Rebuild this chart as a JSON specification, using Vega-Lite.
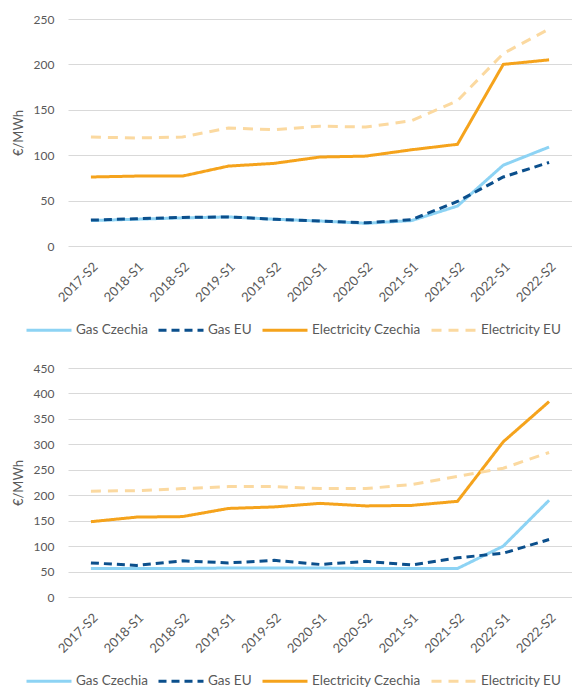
{
  "$schema": "https://vega.github.io/schema/vega-lite/v6.json",
  "padding": {"left": 12, "top": 13, "right": 0, "bottom": 0},
  "spacing": 25,
  "config": {
    "font": "Lato",
    "view": {"stroke": null},
    "axis": {"labelColor": "#595959", "titleColor": "#595959", "labelFontSize": 12, "titleFontSize": 13, "titleFontWeight": "normal", "domain": false, "ticks": false, "gridColor": "#d9d9d9"},
    "legend": {"orient": "none", "legendX": -43, "direction": "horizontal", "title": null, "symbolType": "stroke", "symbolSize": 2025, "symbolStrokeWidth": 3, "labelFontSize": 13.5, "labelColor": "#595959", "columnPadding": 4, "labelOffset": 3, "columns": 4}
  },
  "resolve": {"scale": {"color": "independent", "strokeDash": "independent", "y": "independent", "x": "independent"}, "legend": {"color": "independent", "strokeDash": "independent"}},
  "datasets": {
    "top": [
      {"period": "2017-S2", "series": "Gas Czechia", "value": 28},
      {"period": "2018-S1", "series": "Gas Czechia", "value": 29.5},
      {"period": "2018-S2", "series": "Gas Czechia", "value": 31},
      {"period": "2019-S1", "series": "Gas Czechia", "value": 32},
      {"period": "2019-S2", "series": "Gas Czechia", "value": 29.5},
      {"period": "2020-S1", "series": "Gas Czechia", "value": 27.5},
      {"period": "2020-S2", "series": "Gas Czechia", "value": 25},
      {"period": "2021-S1", "series": "Gas Czechia", "value": 28},
      {"period": "2021-S2", "series": "Gas Czechia", "value": 44},
      {"period": "2022-S1", "series": "Gas Czechia", "value": 89},
      {"period": "2022-S2", "series": "Gas Czechia", "value": 109},
      {"period": "2017-S2", "series": "Gas EU", "value": 28.5},
      {"period": "2018-S1", "series": "Gas EU", "value": 30},
      {"period": "2018-S2", "series": "Gas EU", "value": 31.5},
      {"period": "2019-S1", "series": "Gas EU", "value": 32},
      {"period": "2019-S2", "series": "Gas EU", "value": 29.5},
      {"period": "2020-S1", "series": "Gas EU", "value": 27.5},
      {"period": "2020-S2", "series": "Gas EU", "value": 25.5},
      {"period": "2021-S1", "series": "Gas EU", "value": 29},
      {"period": "2021-S2", "series": "Gas EU", "value": 49},
      {"period": "2022-S1", "series": "Gas EU", "value": 76},
      {"period": "2022-S2", "series": "Gas EU", "value": 92},
      {"period": "2017-S2", "series": "Electricity Czechia", "value": 76},
      {"period": "2018-S1", "series": "Electricity Czechia", "value": 77},
      {"period": "2018-S2", "series": "Electricity Czechia", "value": 77},
      {"period": "2019-S1", "series": "Electricity Czechia", "value": 88},
      {"period": "2019-S2", "series": "Electricity Czechia", "value": 91},
      {"period": "2020-S1", "series": "Electricity Czechia", "value": 98},
      {"period": "2020-S2", "series": "Electricity Czechia", "value": 99},
      {"period": "2021-S1", "series": "Electricity Czechia", "value": 106},
      {"period": "2021-S2", "series": "Electricity Czechia", "value": 112},
      {"period": "2022-S1", "series": "Electricity Czechia", "value": 200},
      {"period": "2022-S2", "series": "Electricity Czechia", "value": 205},
      {"period": "2017-S2", "series": "Electricity EU", "value": 120},
      {"period": "2018-S1", "series": "Electricity EU", "value": 119},
      {"period": "2018-S2", "series": "Electricity EU", "value": 120},
      {"period": "2019-S1", "series": "Electricity EU", "value": 130},
      {"period": "2019-S2", "series": "Electricity EU", "value": 128},
      {"period": "2020-S1", "series": "Electricity EU", "value": 132},
      {"period": "2020-S2", "series": "Electricity EU", "value": 131},
      {"period": "2021-S1", "series": "Electricity EU", "value": 138},
      {"period": "2021-S2", "series": "Electricity EU", "value": 160},
      {"period": "2022-S1", "series": "Electricity EU", "value": 212},
      {"period": "2022-S2", "series": "Electricity EU", "value": 239}
    ],
    "bottom": [
      {"period": "2017-S2", "series": "Gas Czechia", "value": 56},
      {"period": "2018-S1", "series": "Gas Czechia", "value": 56},
      {"period": "2018-S2", "series": "Gas Czechia", "value": 56},
      {"period": "2019-S1", "series": "Gas Czechia", "value": 57},
      {"period": "2019-S2", "series": "Gas Czechia", "value": 57},
      {"period": "2020-S1", "series": "Gas Czechia", "value": 57},
      {"period": "2020-S2", "series": "Gas Czechia", "value": 56},
      {"period": "2021-S1", "series": "Gas Czechia", "value": 56},
      {"period": "2021-S2", "series": "Gas Czechia", "value": 56},
      {"period": "2022-S1", "series": "Gas Czechia", "value": 100},
      {"period": "2022-S2", "series": "Gas Czechia", "value": 190},
      {"period": "2017-S2", "series": "Gas EU", "value": 67},
      {"period": "2018-S1", "series": "Gas EU", "value": 62},
      {"period": "2018-S2", "series": "Gas EU", "value": 71},
      {"period": "2019-S1", "series": "Gas EU", "value": 67},
      {"period": "2019-S2", "series": "Gas EU", "value": 72},
      {"period": "2020-S1", "series": "Gas EU", "value": 64},
      {"period": "2020-S2", "series": "Gas EU", "value": 70},
      {"period": "2021-S1", "series": "Gas EU", "value": 63},
      {"period": "2021-S2", "series": "Gas EU", "value": 77},
      {"period": "2022-S1", "series": "Gas EU", "value": 86},
      {"period": "2022-S2", "series": "Gas EU", "value": 113},
      {"period": "2017-S2", "series": "Electricity Czechia", "value": 148},
      {"period": "2018-S1", "series": "Electricity Czechia", "value": 157},
      {"period": "2018-S2", "series": "Electricity Czechia", "value": 158},
      {"period": "2019-S1", "series": "Electricity Czechia", "value": 174},
      {"period": "2019-S2", "series": "Electricity Czechia", "value": 177},
      {"period": "2020-S1", "series": "Electricity Czechia", "value": 184},
      {"period": "2020-S2", "series": "Electricity Czechia", "value": 179},
      {"period": "2021-S1", "series": "Electricity Czechia", "value": 180},
      {"period": "2021-S2", "series": "Electricity Czechia", "value": 188},
      {"period": "2022-S1", "series": "Electricity Czechia", "value": 305},
      {"period": "2022-S2", "series": "Electricity Czechia", "value": 384},
      {"period": "2017-S2", "series": "Electricity EU", "value": 208},
      {"period": "2018-S1", "series": "Electricity EU", "value": 209},
      {"period": "2018-S2", "series": "Electricity EU", "value": 213},
      {"period": "2019-S1", "series": "Electricity EU", "value": 217},
      {"period": "2019-S2", "series": "Electricity EU", "value": 217},
      {"period": "2020-S1", "series": "Electricity EU", "value": 213},
      {"period": "2020-S2", "series": "Electricity EU", "value": 213},
      {"period": "2021-S1", "series": "Electricity EU", "value": 221},
      {"period": "2021-S2", "series": "Electricity EU", "value": 237},
      {"period": "2022-S1", "series": "Electricity EU", "value": 253},
      {"period": "2022-S2", "series": "Electricity EU", "value": 284}
    ]
  },
  "vconcat": [
    {
      "width": 504,
      "height": 227,
      "data": {"name": "top"},
      "mark": {"type": "line", "strokeWidth": 3},
      "encoding": {
        "x": {"field": "period", "type": "ordinal", "sort": null, "scale": {"type": "point", "padding": 0.5}, "axis": {"title": null, "labelAngle": -45, "grid": false, "labelPadding": 14, "labelFontSize": 13}},
        "y": {"field": "value", "type": "quantitative", "scale": {"domain": [0, 250]}, "axis": {"title": "€/MWh", "values": [0, 50, 100, 150, 200, 250], "labelPadding": 14, "titlePadding": 8}},
        "color": {"field": "series", "type": "nominal", "sort": null, "scale": {"domain": ["Gas Czechia", "Gas EU", "Electricity Czechia", "Electricity EU"], "range": ["#8dd3f4", "#0b4f8c", "#f5a31c", "#fbd9a0"]}, "legend": {"legendY": 287}},
        "strokeDash": {"field": "series", "type": "nominal", "sort": null, "scale": {"domain": ["Gas Czechia", "Gas EU", "Electricity Czechia", "Electricity EU"], "range": [[1, 0], [8, 5], [1, 0], [10, 7]]}, "legend": {"legendY": 287}}
      }
    },
    {
      "width": 504,
      "height": 229,
      "data": {"name": "bottom"},
      "mark": {"type": "line", "strokeWidth": 3},
      "encoding": {
        "x": {"field": "period", "type": "ordinal", "sort": null, "scale": {"type": "point", "padding": 0.5}, "axis": {"title": null, "labelAngle": -45, "grid": false, "labelPadding": 14, "labelFontSize": 13}},
        "y": {"field": "value", "type": "quantitative", "scale": {"domain": [0, 450]}, "axis": {"title": "€/MWh", "values": [0, 50, 100, 150, 200, 250, 300, 350, 400, 450], "labelPadding": 14, "titlePadding": 8}},
        "color": {"field": "series", "type": "nominal", "sort": null, "scale": {"domain": ["Gas Czechia", "Gas EU", "Electricity Czechia", "Electricity EU"], "range": ["#8dd3f4", "#0b4f8c", "#f5a31c", "#fbd9a0"]}, "legend": {"legendY": 289}},
        "strokeDash": {"field": "series", "type": "nominal", "sort": null, "scale": {"domain": ["Gas Czechia", "Gas EU", "Electricity Czechia", "Electricity EU"], "range": [[1, 0], [8, 5], [1, 0], [10, 7]]}, "legend": {"legendY": 289}}
      }
    }
  ]
}
